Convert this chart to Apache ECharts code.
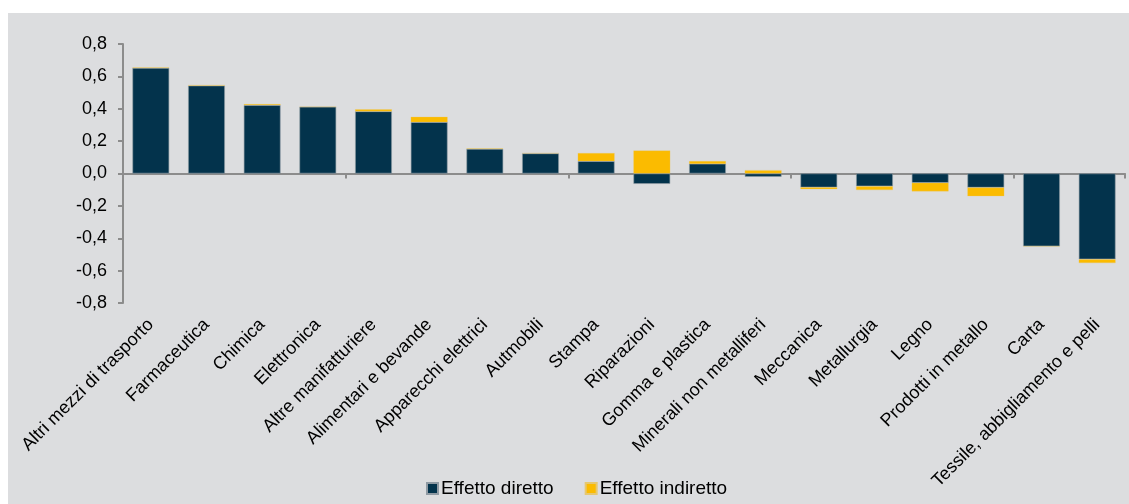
<!DOCTYPE html>
<html>
<head>
<meta charset="utf-8">
<script src="https://cdn.jsdelivr.net/npm/echarts@6/dist/echarts.min.js"></script>
<style>
html,body{margin:0;padding:0;background:#ffffff;}
#wrap{position:relative;width:1129px;height:504px;background:#ffffff;}
#panel{position:absolute;left:8px;top:13px;right:0;bottom:0;background:#dcdddf;}
#chart{position:absolute;left:0;top:0;width:1129px;height:504px;}
</style>
</head>
<body>
<div id="wrap"><div id="panel"></div><div id="chart"></div></div>
<script>
const categories = [
  'Altri mezzi di trasporto','Farmaceutica','Chimica','Elettronica','Altre manifatturiere',
  'Alimentari e bevande','Apparecchi elettrici','Autmobili','Stampa','Riparazioni',
  'Gomma e plastica','Minerali non metalliferi','Meccanica','Metallurgia','Legno',
  'Prodotti in metallo','Carta','Tessile, abbigliamento e pelli'
];
const effettoDiretto = [0.652, 0.543, 0.422, 0.412, 0.384, 0.317, 0.152, 0.124, 0.076, -0.064,
  0.060, -0.020, -0.086, -0.079, -0.058, -0.087, -0.450, -0.530];
const effettoIndiretto = [0.003, 0.003, 0.006, 0.0, 0.012, 0.033, 0.003, 0.002, 0.050, 0.142,
  0.016, 0.020, -0.010, -0.023, -0.052, -0.053, 0.0, -0.023];
const seriesNames = ['Effetto diretto', 'Effetto indiretto'];
const yMin = -0.8, yMax = 0.8, yStep = 0.2;

const chart = echarts.init(document.getElementById('chart'), null, {renderer: 'canvas'});
const font = 'Liberation Sans, Arial, sans-serif';
const axisGray = '#8c8c8c';
chart.setOption({
  backgroundColor: 'transparent',
  animation: false,
  textStyle: {fontFamily: font},
  grid: {left: 123, right: 4, top: 44, bottom: 201, containLabel: false},
  legend: {
    data: seriesNames,
    bottom: 1,
    left: 421,
    itemWidth: 11,
    itemHeight: 11,
    itemGap: 31,
    icon: 'rect',
    textStyle: {fontSize: 19, color: '#000', fontFamily: font, padding: [0,0,0,-2]}
  },
  xAxis: [
    {
      type: 'category',
      data: categories,
      axisLine: {onZero: true, lineStyle: {color: axisGray, width: 2}},
      axisTick: {show: true, length: 5, lineStyle: {color: axisGray, width: 2}},
      axisLabel: {show: false},
      splitLine: {show: false}
    },
    {
      type: 'category',
      data: categories,
      position: 'bottom',
      axisLine: {show: false, onZero: false},
      axisTick: {show: false},
      axisLabel: {
        show: true, interval: 0, rotate: 45, margin: 19,
        fontSize: 18, color: '#000', fontFamily: font
      },
      splitLine: {show: false}
    }
  ],
  yAxis: {
    type: 'value',
    min: yMin, max: yMax, interval: yStep,
    axisLine: {show: true, lineStyle: {color: axisGray, width: 2}},
    axisTick: {show: true, length: 5, lineStyle: {color: axisGray, width: 2}},
    splitLine: {show: false},
    axisLabel: {
      fontSize: 18, color: '#000', margin: 16, fontFamily: font,
      formatter: v => v.toFixed(1).replace('.', ',')
    }
  },
  series: [
    {
      name: seriesNames[0], type: 'bar', stack: 'tot', xAxisIndex: 0,
      data: effettoDiretto, barWidth: '66%',
      itemStyle: {color: '#03334c', borderColor: '#8f9aa3', borderWidth: 0.6}
    },
    {
      name: seriesNames[1], type: 'bar', stack: 'tot', xAxisIndex: 0,
      data: effettoIndiretto, barWidth: '66%',
      itemStyle: {color: '#fbbb00', borderColor: '#e6c870', borderWidth: 0.3}
    }
  ]
});
</script>
</body>
</html>
